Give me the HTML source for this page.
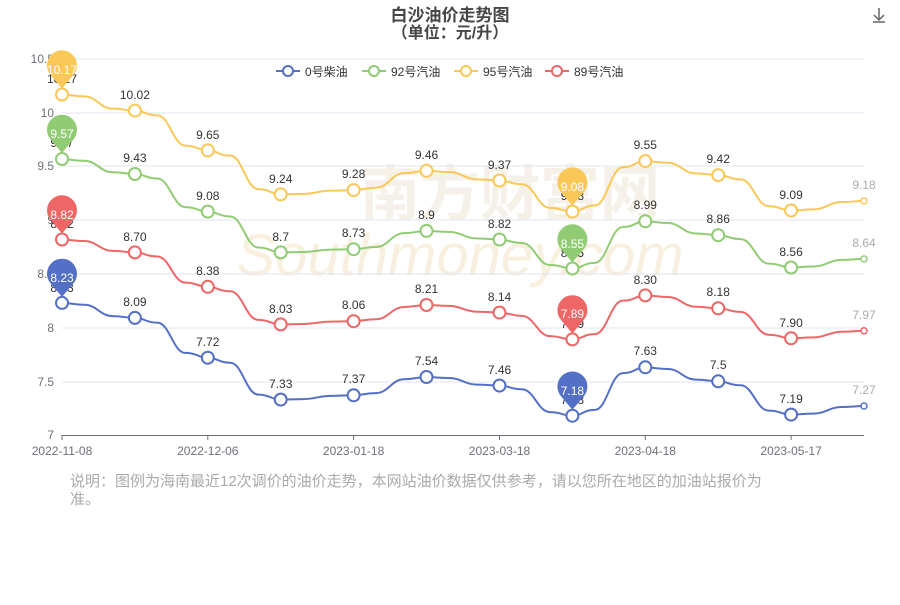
<!DOCTYPE html>
<html><head><meta charset="utf-8"><style>
body{margin:0;background:#fff;width:900px;height:600px;overflow:hidden;font-family:"Liberation Sans","Noto Sans CJK SC",sans-serif}
svg text{font-family:"Liberation Sans","Noto Sans CJK SC",sans-serif}
</style></head><body>
<svg id="s" width="900" height="600" xmlns="http://www.w3.org/2000/svg">
<text x="450" y="21" text-anchor="middle" font-size="17" font-weight="bold" fill="#464646">白沙油价走势图</text>
<text x="450" y="38" text-anchor="middle" font-size="16" font-weight="bold" fill="#464646">（单位：元/升）</text>
<g fill="none" stroke="#666" stroke-width="1.5"><path d="M879 8v12M874 15l5 5 5-5M873 22h12"/></g>
<text x="510" y="215" text-anchor="middle" font-size="60" font-weight="bold" fill="#f3ede3" opacity="0.8">南方财富网</text>
<text x="460" y="275" text-anchor="middle" font-size="58" font-style="italic" fill="#f7ecd8" opacity="0.8">Southmoney.com</text>
<g stroke="#e0e6f1" stroke-width="1">
<line x1="62" x2="864" y1="59" y2="59"/><line x1="62" x2="864" y1="113" y2="113"/><line x1="62" x2="864" y1="166" y2="166"/><line x1="62" x2="864" y1="220" y2="220"/><line x1="62" x2="864" y1="274" y2="274"/><line x1="62" x2="864" y1="328" y2="328"/><line x1="62" x2="864" y1="382" y2="382"/>
</g>
<line x1="62" x2="864" y1="435.5" y2="435.5" stroke="#6e7079"/>
<g stroke="#6e7079"><line x1="62" x2="62" y1="435" y2="440"/><line x1="207.8" x2="207.8" y1="435" y2="440"/><line x1="353.6" x2="353.6" y1="435" y2="440"/><line x1="499.5" x2="499.5" y1="435" y2="440"/><line x1="645.3" x2="645.3" y1="435" y2="440"/><line x1="791.1" x2="791.1" y1="435" y2="440"/></g>
<g font-size="12" fill="#6e7079" text-anchor="end">
<text x="54" y="63">10.5</text><text x="54" y="117">10</text><text x="54" y="170">9.5</text><text x="54" y="224">9</text><text x="54" y="278">8.5</text><text x="54" y="332">8</text><text x="54" y="386">7.5</text><text x="54" y="439">7</text>
</g>
<g font-size="12" fill="#6e7079" text-anchor="middle">
<text x="62" y="455">2022-11-08</text><text x="207.8" y="455">2022-12-06</text><text x="353.6" y="455">2023-01-18</text><text x="499.5" y="455">2023-03-18</text><text x="645.3" y="455">2023-04-18</text><text x="791.1" y="455">2023-05-17</text>
</g>
<g font-size="12" fill="#333">
<line x1="276" x2="300" y1="71" y2="71" stroke="#5470c6" stroke-width="2"/><circle cx="288" cy="71" r="5" fill="#fff" stroke="#5470c6" stroke-width="2"/><text x="305" y="76">0号柴油</text>
<line x1="362" x2="386" y1="71" y2="71" stroke="#91cc75" stroke-width="2"/><circle cx="374" cy="71" r="5" fill="#fff" stroke="#91cc75" stroke-width="2"/><text x="391" y="76">92号汽油</text>
<line x1="454" x2="478" y1="71" y2="71" stroke="#fac858" stroke-width="2"/><circle cx="466" cy="71" r="5" fill="#fff" stroke="#fac858" stroke-width="2"/><text x="483" y="76">95号汽油</text>
<line x1="545" x2="569" y1="71" y2="71" stroke="#ee6666" stroke-width="2"/><circle cx="557" cy="71" r="5" fill="#fff" stroke="#ee6666" stroke-width="2"/><text x="574" y="76">89号汽油</text>
</g>
<g id="lines"></g>
<g font-size="12" fill="#333" text-anchor="middle">
<text x="62" y="292">8.23</text><text x="134.9" y="306">8.09</text><text x="207.8" y="346">7.72</text><text x="280.7" y="388">7.33</text><text x="353.6" y="383">7.37</text><text x="426.5" y="365">7.54</text><text x="499.5" y="374">7.46</text><text x="572.4" y="404">7.18</text><text x="645.3" y="355">7.63</text><text x="718.2" y="369">7.5</text><text x="791.1" y="403">7.19</text><text x="864" y="394" fill="#aaa">7.27</text>
<text x="62" y="147">9.57</text><text x="134.9" y="162">9.43</text><text x="207.8" y="200">9.08</text><text x="280.7" y="241">8.7</text><text x="353.6" y="237">8.73</text><text x="426.5" y="219">8.9</text><text x="499.5" y="228">8.82</text><text x="572.4" y="257">8.55</text><text x="645.3" y="209">8.99</text><text x="718.2" y="223">8.86</text><text x="791.1" y="256">8.56</text><text x="864" y="247" fill="#aaa">8.64</text>
<text x="62" y="83">10.17</text><text x="134.9" y="99">10.02</text><text x="207.8" y="139">9.65</text><text x="280.7" y="183">9.24</text><text x="353.6" y="178">9.28</text><text x="426.5" y="159">9.46</text><text x="499.5" y="169">9.37</text><text x="572.4" y="200">9.08</text><text x="645.3" y="149">9.55</text><text x="718.2" y="163">9.42</text><text x="791.1" y="199">9.09</text><text x="864" y="189" fill="#aaa">9.18</text>
<text x="62" y="228">8.82</text><text x="134.9" y="241">8.70</text><text x="207.8" y="275">8.38</text><text x="280.7" y="313">8.03</text><text x="353.6" y="309">8.06</text><text x="426.5" y="293">8.21</text><text x="499.5" y="301">8.14</text><text x="572.4" y="328">7.89</text><text x="645.3" y="284">8.30</text><text x="718.2" y="296">8.18</text><text x="791.1" y="327">7.90</text><text x="864" y="319" fill="#aaa">7.97</text>
</g>
<g id="pins"></g>
<g font-size="12" fill="#fff" text-anchor="middle">
<text x="62" y="282">8.23</text><text x="572.4" y="395">7.18</text>
<text x="62" y="138">9.57</text><text x="572.4" y="248">8.55</text>
<text x="62" y="74">10.17</text><text x="572.4" y="191">9.08</text>
<text x="62" y="219">8.82</text><text x="572.4" y="318">7.89</text>
</g>
<text x="70" y="486" font-size="15" fill="#aaa">说明：图例为海南最近12次调价的油价走势，本网站油价数据仅供参考，请以您所在地区的加油站报价为</text>
<text x="70" y="504" font-size="15" fill="#aaa">准。</text>
<script>
var X=[62,134.9,207.8,280.7,353.6,426.5,499.5,572.4,645.3,718.2,791.1,864];
var S=[["#5470c6",[302.9,317.9,357.7,399.6,395.3,377.0,385.6,415.7,367.3,381.3,414.6,406.0]],
["#91cc75",[159.0,174.0,211.6,252.4,249.2,230.9,239.5,268.5,221.3,235.2,267.5,258.9]],
["#fac858",[94.5,110.6,150.4,194.4,190.1,170.8,180.5,211.6,161.1,175.1,210.5,200.9]],
["#ee6666",[239.5,252.4,286.8,324.4,321.2,305.0,312.6,339.4,295.4,308.3,338.3,330.8]]];
var ns="http://www.w3.org/2000/svg",L=document.getElementById("lines"),P=document.getElementById("pins");
function el(t,a,p){var e=document.createElementNS(ns,t);for(var k in a)e.setAttribute(k,a[k]);p.appendChild(e);return e;}
S.forEach(function(s){var c=s[0],Y=s[1],d="M"+X[0]+" "+Y[0];
for(var i=1;i<12;i++){var x0=X[i-1],x1=X[i],y0=Y[i-1],y1=Y[i],xm=(x0+x1)/2,w=14,dy=y1-y0;
var ya=y0+dy*0.12,yb=y1-dy*0.12;
d+=" C"+(x0+10)+" "+y0+" "+(xm-w-12)+" "+ya+" "+(xm-w)+" "+ya;
d+=" C"+(xm-2)+" "+ya+" "+(xm+2)+" "+yb+" "+(xm+w)+" "+yb;
d+=" C"+(xm+w+12)+" "+yb+" "+(x1-10)+" "+y1+" "+x1+" "+y1;}
el("path",{d:d,fill:"none",stroke:c,"stroke-width":2},L);
for(var i=0;i<12;i++){var last=i==11;el("circle",{cx:X[i],cy:Y[i],r:last?3:6,fill:"#fff",stroke:c,"stroke-width":last?1.5:2},L);}
[0,7].forEach(function(i){var x=X[i],y=Y[i]-6;var cy=y-22;
el("path",{d:"M"+x+" "+y+" L"+(x-11)+" "+(cy+9)+" A15 15 0 1 1 "+(x+11)+" "+(cy+9)+" Z",fill:c},P);});
});
</script>
</svg>
</body></html>
